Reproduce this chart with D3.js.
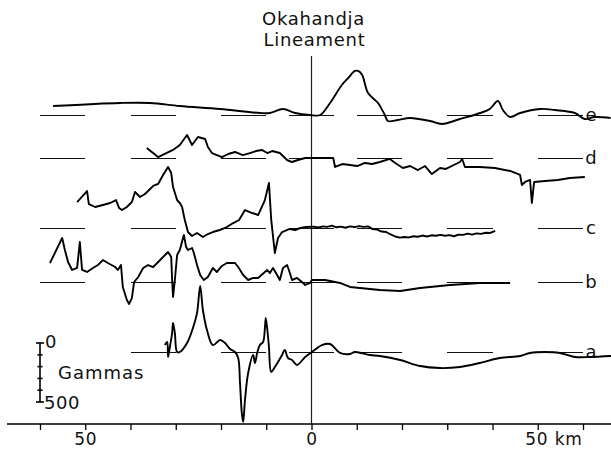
<!DOCTYPE html>
<html>
<head>
<meta charset="utf-8">
<style>
body { margin: 0; background: #fff; }
text { font-family: "DejaVu Sans", sans-serif; fill: #111; }
</style>
</head>
<body>
<script src="https://cdn.jsdelivr.net/npm/d3@7"></script>
<script>

// profile e
var eKm    = [-57.1, -42.3, -35.7, -29.1, -20.2, -11.4, -9.2, -6.3, -3.6, -0.3, 1.9, 4.1, 6.7, 8.1, 9.6, 10.3, 11.2, 12.5, 14.7, 16.2, 16.9, 19.1, 21.8, 26.2, 28.8, 32.8, 37.3, 39.4, 41.2, 42.3, 43.9, 46.1, 50.5, 53.8, 58.2, 60.4, 62.6, 66.1];
var eGamma = [76, 102, 102, 76, 51, 17, 17, 51, 17, 0, 0, 102, 254, 313, 373, 373, 339, 186, 102, 0, -51, -42, -25, -51, -76, -34, 17, 51, 119, 42, -17, 17, 51, 42, 17, -34, -17, -25];

// profile d
var dKm    = [-36.4, -33.9, -30.6, -29.1, -27.5, -26.4, -25.1, -23.5, -22.9, -22.0, -19.8, -18.4, -16.9, -15.2, -13.6, -12.3, -10.9, -9.8, -8.7, -7.0, -5.4, -4.3, -3.0, -1.4, 4.8, 5.2, 6.8, 8.5, 10.1, 11.8, 13.4, 15.1, 17.3, 18.5, 20.2, 21.8, 23.5, 25.1, 26.6, 28.4, 29.7, 31.0, 32.8, 33.3, 33.9, 37.2, 40.5, 43.9, 46.1, 46.5, 47.2, 48.3, 48.7, 49.2, 51.6, 54.4, 57.1, 60.4];
var dGamma = [85, 8, 68, 110, 195, 110, 178, 161, 93, 42, 8, 34, 51, 25, 42, 59, 68, 42, 59, 42, -17, -34, -17, 0, 0, -76, -51, -59, -68, -42, -51, -34, -8, -42, -85, -68, -102, -68, -136, -85, -93, -68, -34, -8, -76, -76, -85, -110, -144, -229, -203, -186, -381, -203, -195, -186, -169, -161];

// profile c
var cKm    = [-51.8, -49.6, -49.2, -47.8, -46.1, -44.5, -43.2, -42.5, -41.9, -40.8, -39.7, -39.0, -37.9, -36.8, -35.0, -33.9, -32.8, -31.7, -31.0, -30.6, -29.7, -29.1, -28.6, -28.0, -27.3, -26.4, -25.3, -24.0, -22.9, -21.8, -20.3, -18.7, -17.3, -16.0, -14.7, -13.1, -11.8, -10.3, -9.4, -8.9, -8.1, -7.4, -6.5, -4.8, -3.6, -2.5, -1.2, 0.5, 1.5, 2.5, 3.5, 4.5, 5.5, 6.5, 7.5, 8.5, 9.5, 10.5, 11.5, 12.5, 13.5, 14.5, 15.5, 16.5, 17.5, 18.5, 19.5, 20.5, 21.5, 22.5, 23.5, 24.5, 25.5, 26.5, 27.5, 28.5, 29.5, 30.5, 31.5, 32.5, 33.5, 34.5, 35.5, 36.5, 37.5, 38.5, 39.5, 40.6];
var cGamma = [220, 313, 203, 178, 195, 212, 237, 169, 152, 178, 220, 305, 263, 288, 356, 373, 449, 517, 466, 347, 237, 212, 178, 68, -34, -68, -42, -76, -51, -34, -17, 8, 42, 68, 152, 127, 110, 237, 381, 68, -212, -85, -34, -8, -17, 0, 8, 12, 4, 14, 10, 20, 6, 12, 2, 14, 8, 16, 10, 14, -10, -14, -30, -34, -55, -72, -82, -76, -80, -70, -74, -64, -72, -62, -66, -58, -66, -60, -70, -56, -58, -48, -56, -46, -50, -40, -42, -25];

// profile b
var bKm    = [-57.8, -55.1, -54.5, -53.8, -52.9, -51.8, -51.2, -50.7, -49.6, -48.3, -47.2, -46.1, -45.0, -43.4, -42.8, -42.1, -41.7, -40.8, -40.3, -39.7, -39.2, -38.3, -37.2, -36.1, -35.0, -34.1, -32.8, -31.7, -31.0, -30.8, -30.6, -30.2, -29.7, -29.1, -28.4, -28.2, -27.7, -27.3, -26.4, -26.0, -25.3, -24.6, -23.8, -22.9, -21.8, -20.9, -19.8, -18.7, -16.9, -16.2, -15.1, -14.0, -12.9, -11.8, -9.8, -9.2, -8.5, -7.6, -7.0, -6.3, -5.4, -5.0, -4.3, -3.2, -2.1, -1.4, -0.3, 0.1, 3.0, 6.3, 8.5, 10.7, 15.1, 19.6, 24.0, 30.6, 37.2, 43.9];
var bGamma = [161, 373, 271, 169, 102, 119, 339, 102, 85, 119, 144, 186, 161, 127, 102, 144, -42, -152, -186, -136, 0, 42, 119, 144, 127, 161, 212, 254, 212, 17, -127, 17, 229, 271, 373, 398, 296, 271, 288, 246, 144, 59, 17, 42, 119, 85, 136, 161, 161, 127, 59, 17, 34, 34, 102, 76, 119, 59, 17, 119, 144, 102, 17, 34, 0, -25, -8, 17, 17, -8, -42, -51, -68, -76, -51, -25, -8, -8];

// profile a
var aKm    = [-32.4, -31.9, -31.7, -31.3, -30.8, -30.6, -30.2, -29.7, -29.1, -27.5, -26.2, -25.3, -24.6, -24.0, -23.1, -21.8, -20.2, -19.1, -18.0, -16.9, -16.2, -15.8, -15.4, -15.1, -14.7, -14.0, -12.9, -12.5, -12.0, -11.4, -10.7, -10.3, -10.1, -9.6, -9.4, -8.9, -8.1, -6.5, -5.9, -5.2, -4.3, -3.2, -1.4, 0.1, 2.3, 4.1, 6.3, 8.5, 9.6, 12.9, 15.1, 19.6, 24.0, 28.4, 32.8, 37.2, 41.6, 46.1, 48.3, 51.6, 54.9, 58.2, 61.5, 66.2];
var aGamma = [59, 85, -42, 42, 161, 246, 161, 0, 0, 76, 203, 330, 559, 356, 186, 59, 102, 76, 25, 0, -51, -263, -517, -593, -407, -178, -25, -93, -8, 59, 85, 203, 288, 127, 42, -169, -127, -25, 17, -51, -68, -110, -42, 0, 59, 68, -8, -17, 0, -25, -34, -68, -119, -136, -127, -93, -51, -34, -8, 0, -8, -42, -42, -34];

var profileNames = ["e", "d", "c", "b", "a"];
var axisTicks = [-60, -50, -40, -30, -20, -10, 0, 10, 20, 30, 40, 50, 60];
var axisLabels = {"-50": "50", "0": "0", "50": "50 km"};
var refDashes = [[-60, -50], [-40, -30], [-20, -10], [-5, 5], [10, 20], [30, 40], [50, 60]];
var gammaScaleTicks = [0, 100, 200, 300, 400, 500];

var width = 611,
    height = 451;

var svg = d3.select("body").append("svg")
    .attr("width", width)
    .attr("height", height);

var x = d3.scaleLinear().domain([-60, 60]).range([40, 583]);
// gammas -> pixel offset above the profile's zero line
var g = d3.scaleLinear().domain([0, 500]).range([0, -59]);

var baseY = {e: 115, d: 158, c: 228, b: 282, a: 352};
var smooth = {e: true, a: true};
var profiles = {
  e: d3.zip(eKm, eGamma),
  d: d3.zip(dKm, dGamma),
  c: d3.zip(cKm, cGamma),
  b: d3.zip(bKm, bGamma),
  a: d3.zip(aKm, aGamma)
};

// lineament
svg.append("line")
    .attr("x1", x(0)).attr("x2", x(0))
    .attr("y1", 56).attr("y2", 424)
    .attr("stroke", "#222")
    .attr("stroke-width", 1.2);

svg.append("text")
    .attr("x", x(0) + 2).attr("y", 25)
    .attr("text-anchor", "middle")
    .style("font-size", "18px")
    .style("letter-spacing", "0.7px")
    .text("Okahandja");
svg.append("text")
    .attr("x", x(0) + 3).attr("y", 46)
    .attr("text-anchor", "middle")
    .style("font-size", "18px")
    .style("letter-spacing", "0.7px")
    .text("Lineament");

// zero lines, dashed in 10 km pieces
profileNames.forEach(function(name) {
  var pieces = name == "a" ? refDashes.slice(1) : refDashes;
  svg.append("g").selectAll("line")
      .data(pieces)
      .enter().append("line")
      .attr("x1", function(d) { return x(d[0]); })
      .attr("x2", function(d) { return x(d[1]); })
      .attr("y1", baseY[name] + 0.5)
      .attr("y2", baseY[name] + 0.5)
      .attr("stroke", "#111")
      .attr("stroke-width", 1)
      .attr("shape-rendering", "crispEdges");

  svg.append("text")
      .attr("x", 591).attr("y", baseY[name])
      .attr("dy", "0.35em")
      .attr("text-anchor", "middle")
      .style("font-size", "18px")
      .text(name);
});

profileNames.forEach(function(name) {
  var line = d3.line()
      .x(function(d) { return x(d[0]); })
      .y(function(d) { return baseY[name] + g(d[1]); })
      .curve(smooth[name] ? d3.curveCatmullRom.alpha(0.5) : d3.curveLinear);
  svg.append("path")
      .datum(profiles[name])
      .attr("d", line)
      .attr("fill", "none")
      .attr("stroke", "#000")
      .attr("stroke-width", 1.9)
      .attr("stroke-linejoin", "round");
});

// bottom distance axis
var axisY = 424;
svg.append("line")
    .attr("x1", 7).attr("x2", width)
    .attr("y1", axisY).attr("y2", axisY)
    .attr("stroke", "#000")
    .attr("stroke-width", 1.6);

var xAxis = svg.append("g")
    .attr("transform", "translate(0," + axisY + ")")
    .call(d3.axisBottom(x)
        .tickValues(axisTicks)
        .tickSize(6)
        .tickPadding(3)
        .tickFormat(function(d) { return axisLabels[d] || ""; }));
xAxis.select(".domain").remove();
xAxis.selectAll(".tick line").attr("stroke", "#000").attr("stroke-width", 1.3);
xAxis.selectAll(".tick text")
    .style("font-family", "DejaVu Sans, sans-serif")
    .style("font-size", "17px")
    .style("letter-spacing", "0.8px")
    .attr("fill", "#111")
    .filter(function(d) { return d == 50; })
    .attr("text-anchor", "start")
    .attr("x", -13);

// gammas scale bar
var barX = 40, barTop = 343;
var bar = svg.append("g");
bar.append("line")
    .attr("x1", barX).attr("x2", barX)
    .attr("y1", barTop + g(0)).attr("y2", barTop - g(500))
    .attr("stroke", "#000").attr("stroke-width", 1.6);
bar.selectAll(".gt")
    .data(gammaScaleTicks)
    .enter().append("line")
    .attr("x1", function(d) { return (d == 0 || d == 500) ? barX - 4 : barX - 2.5; })
    .attr("x2", function(d) { return (d == 0 || d == 500) ? barX + 4 : barX + 2.5; })
    .attr("y1", function(d) { return barTop - g(d); })
    .attr("y2", function(d) { return barTop - g(d); })
    .attr("stroke", "#000").attr("stroke-width", 1.6);
bar.append("text")
    .attr("x", barX + 5).attr("y", barTop - g(0))
    .attr("dy", "0.3em")
    .style("font-size", "18px")
    .text("0");
bar.append("text")
    .attr("x", barX + 18).attr("y", barTop - g(250))
    .attr("dy", "0.35em")
    .style("font-size", "18px")
    .style("letter-spacing", "1px")
    .text("Gammas");
bar.append("text")
    .attr("x", barX + 4).attr("y", barTop - g(500))
    .attr("dy", "0.4em")
    .style("font-size", "18px")
    .style("letter-spacing", "0.5px")
    .text("500");

</script>
</body>
</html>
